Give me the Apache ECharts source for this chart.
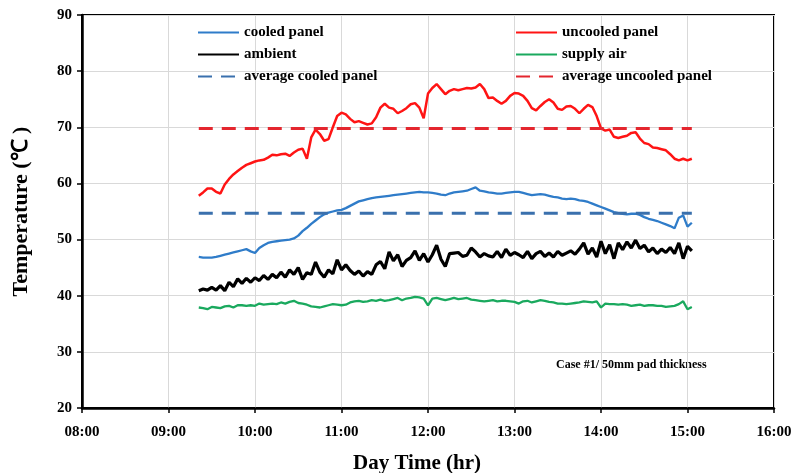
<!DOCTYPE html>
<html>
<head>
<meta charset="utf-8">
<title>Panel temperatures</title>
<script src="https://cdn.jsdelivr.net/npm/echarts@6/dist/echarts.min.js"></script>
<style>
  html, body { margin: 0; padding: 0; background: #fff; }
  #chart { width: 798px; height: 473px; }
</style>
</head>
<body>
<div id="chart"></div>
<script>
// Sampling: every 3 minutes from 09:21 to 15:03 (minutes after midnight)
const startMinute = 561;
const stepMinutes = 3;

const uncooledPanel = [
  57.8, 58.4, 59.1, 59.1, 58.5, 58.2, 59.8, 60.8, 61.6, 62.2,
  62.8, 63.3, 63.6, 63.9, 64.1, 64.2, 64.6, 65.1, 65.0, 65.2,
  65.3, 64.9, 65.5, 66.0, 66.2, 64.4, 68.2, 69.6, 68.8, 67.6,
  67.9, 70.0, 72.0, 72.6, 72.3, 71.5, 70.9, 71.1, 70.8, 70.5,
  70.7, 71.8, 73.5, 74.2, 73.5, 73.3, 72.5, 72.9, 73.4, 74.1,
  74.3, 73.5, 71.6, 76.0, 77.0, 77.7, 76.8, 75.9, 76.5, 76.8,
  76.6, 76.8, 77.0, 76.9, 77.1, 77.7, 76.8, 75.2, 75.3, 74.7,
  74.2, 74.7, 75.6, 76.1, 76.0, 75.6, 74.7, 73.4, 73.0, 73.8,
  74.5, 75.0, 74.4, 73.3, 73.1, 73.7, 73.8, 73.3, 72.5, 73.3,
  74.0, 73.6, 72.0, 69.8, 69.4, 69.6, 68.3, 68.1, 68.3, 68.5,
  69.0, 69.1, 68.0, 67.2, 67.0, 66.4, 66.3, 66.1, 65.9, 65.2,
  64.4, 64.1, 64.4, 64.1, 64.4
];

const cooledPanel = [
  46.9, 46.8, 46.8, 46.8, 46.9, 47.1, 47.3, 47.5, 47.7, 47.9,
  48.1, 48.3, 47.9, 47.6, 48.5, 49.0, 49.4, 49.6, 49.7, 49.8,
  49.9, 50.0, 50.2, 50.7, 51.5, 52.1, 52.8, 53.4, 54.0, 54.5,
  54.8, 55.0, 55.2, 55.3, 55.6, 56.0, 56.4, 56.8, 57.0, 57.2,
  57.4, 57.5, 57.6, 57.7, 57.8, 57.9, 58.0, 58.1, 58.2, 58.3,
  58.4, 58.5, 58.4, 58.4, 58.3, 58.2, 58.0, 57.9, 58.2, 58.4,
  58.5, 58.6, 58.7, 59.0, 59.3, 58.7, 58.6, 58.4, 58.3, 58.2,
  58.2, 58.3, 58.4, 58.5, 58.5, 58.3, 58.1, 57.9, 58.0, 58.1,
  58.0, 57.8, 57.6, 57.5, 57.3, 57.2, 57.3, 57.2, 57.0, 56.9,
  56.7, 56.4, 56.1, 55.8, 55.5, 55.2, 54.9, 54.7, 54.6, 54.5,
  54.6, 54.6, 54.4, 54.0, 53.7, 53.5, 53.3, 53.0, 52.7, 52.4,
  52.0, 53.9, 54.3, 52.3, 53.0
];

const ambient = [
  40.9, 41.2, 41.0, 41.5, 41.0, 41.8, 40.9, 42.4, 41.6, 43.0,
  42.2, 43.1, 42.4, 43.2, 42.7, 43.6, 42.9, 43.8, 43.2, 44.2,
  43.3, 44.6, 43.8, 45.0, 42.9, 44.1, 43.8, 46.0, 44.2, 43.3,
  44.6, 43.9, 46.4, 44.6, 45.5, 44.5, 43.8, 44.4, 43.5, 44.3,
  43.8, 45.5, 46.1, 44.8, 47.8, 46.2, 47.3, 45.2, 46.3, 46.8,
  48.0, 46.3, 47.5, 46.0, 47.3, 49.0, 46.5, 45.2, 47.5, 47.6,
  47.7, 47.0, 47.2, 48.5, 47.8, 46.9, 47.5, 47.1, 46.9, 47.9,
  46.8, 48.3, 47.2, 47.7, 47.3, 46.8, 47.9, 46.6, 47.5, 47.9,
  47.0, 47.6, 46.9, 47.9, 47.2, 47.6, 48.0, 47.4, 48.3, 49.4,
  47.4, 48.5, 46.9, 49.7, 47.5, 49.1, 46.6, 49.4, 48.2, 49.6,
  48.5, 49.9, 48.4, 49.0, 47.8, 48.5, 47.5, 48.3, 47.7, 48.6,
  47.5, 49.4, 46.6, 48.8, 48.0
];

const supplyAir = [
  37.9, 37.8, 37.6, 38.0, 37.9, 37.8, 38.1, 38.2, 37.9, 38.3,
  38.3, 38.2, 38.3, 38.2, 38.6, 38.4, 38.5, 38.6, 38.5, 38.8,
  38.6, 38.9, 39.1, 38.7, 38.6, 38.4, 38.1, 38.0, 37.9, 38.1,
  38.3, 38.5, 38.4, 38.3, 38.4, 38.8, 39.0, 39.1, 38.9, 39.0,
  39.2, 39.1, 39.3, 39.1, 39.2, 39.4, 39.6, 39.2, 39.5, 39.6,
  39.8, 39.7, 39.5, 38.3, 39.5, 39.6, 39.4, 39.2, 39.4, 39.6,
  39.4, 39.5, 39.6, 39.3, 39.2, 39.1, 39.0, 39.1, 39.2, 39.0,
  39.1, 39.1, 39.0, 38.9, 38.6, 39.0, 39.1, 38.8, 39.0, 39.2,
  39.1, 38.9, 38.8, 38.6, 38.6, 38.5, 38.6, 38.7, 38.8, 39.0,
  38.9, 38.8, 39.0, 37.9, 38.6, 38.5, 38.5, 38.4, 38.5, 38.4,
  38.2, 38.3, 38.4, 38.2, 38.3, 38.3, 38.2, 38.2, 38.0, 38.1,
  38.2, 38.5, 39.0, 37.6, 38.0
];

const averageCooled = 54.7;
const averageUncooled = 69.8;

const yTicks = { min: 20, max: 90, step: 10 };
const xTicks = { min: 480, max: 960, step: 60 };   // 08:00 .. 16:00

const times = uncooledPanel.map((_, i) => startMinute + i * stepMinutes);
const pair = arr => arr.map((v, i) => [times[i], v]);
const flat = v => [[times[0], v], [times[times.length - 1], v]];

const serif = '"Liberation Serif", "Times New Roman", serif';
const hhmm = m => String(Math.floor(m / 60)).padStart(2, '0') + ':' + String(m % 60).padStart(2, '0');

const legendText = { fontFamily: serif, fontWeight: 'bold', fontSize: 15, color: '#000' };
// line-only legend keys (no marker in the middle)
const legendBase = {
  orient: 'vertical', top: 20,
  itemWidth: 41, itemHeight: 14, itemGap: 7, itemTextGap: 5,
  itemStyle: { opacity: 0 },
  textStyle: legendText
};

const chart = echarts.init(document.getElementById('chart'), null, { renderer: 'canvas' });
chart.setOption({
  animation: false,
  backgroundColor: '#fff',
  grid: {
    left: 82, right: 24, top: 15, bottom: 65,
    containLabel: false, outerBoundsMode: 'none',
    show: true, borderColor: '#000', borderWidth: 2, backgroundColor: 'transparent'
  },
  legend: [
    Object.assign({}, legendBase, {
      left: 192,
      data: ['cooled panel', 'ambient', 'average cooled panel']
    }),
    Object.assign({}, legendBase, {
      left: 510,
      data: ['uncooled panel', 'supply air', 'average uncooled panel']
    })
  ],
  xAxis: {
    type: 'value',
    min: xTicks.min, max: xTicks.max, interval: xTicks.step,
    name: 'Day Time (hr)',
    nameLocation: 'middle', nameGap: 45,
    nameTextStyle: {
      fontFamily: serif, fontWeight: 'bold', fontSize: 21, color: '#000',
      padding: [0, 22, 0, 0]
    },
    axisLine: { show: true, onZero: false, lineStyle: { color: '#000', width: 2.5 } },
    axisTick: { show: true, length: 5, lineStyle: { color: '#000', width: 1.5 } },
    axisLabel: {
      margin: 17, formatter: v => hhmm(v),
      fontFamily: serif, fontWeight: 'bold', fontSize: 15, color: '#000'
    },
    splitLine: { show: true, lineStyle: { color: '#d9d9d9', width: 1 } }
  },
  yAxis: {
    type: 'value',
    min: yTicks.min, max: yTicks.max, interval: yTicks.step,
    name: 'Temperature (℃ )',
    nameLocation: 'middle', nameGap: 50,
    nameTextStyle: { fontFamily: serif, fontWeight: 'bold', fontSize: 22, color: '#000' },
    axisLine: { show: true, lineStyle: { color: '#000', width: 2.5 } },
    axisTick: { show: true, length: 5, lineStyle: { color: '#000', width: 1.5 } },
    axisLabel: { margin: 10, fontFamily: serif, fontWeight: 'bold', fontSize: 15, color: '#000' },
    splitLine: { show: true, lineStyle: { color: '#d9d9d9', width: 1 } }
  },
  series: [
    {
      name: 'cooled panel', type: 'line', symbol: 'none',
      data: pair(cooledPanel),
      lineStyle: { color: '#2f7cc9', width: 2.3 }, itemStyle: { color: '#2f7cc9' }
    },
    {
      name: 'uncooled panel', type: 'line', symbol: 'none',
      data: pair(uncooledPanel),
      lineStyle: { color: '#ff1414', width: 2.5 }, itemStyle: { color: '#ff1414' }
    },
    {
      name: 'ambient', type: 'line', symbol: 'none',
      data: pair(ambient),
      lineStyle: { color: '#000', width: 3.2 }, itemStyle: { color: '#000' }
    },
    {
      name: 'supply air', type: 'line', symbol: 'none',
      data: pair(supplyAir),
      lineStyle: { color: '#1aa95e', width: 2.3 }, itemStyle: { color: '#1aa95e' }
    },
    {
      name: 'average cooled panel', type: 'line', symbol: 'none',
      data: flat(averageCooled),
      lineStyle: { color: '#3a70ad', width: 3, type: [14, 9] }, itemStyle: { color: '#3a70ad' }
    },
    {
      name: 'average uncooled panel', type: 'line', symbol: 'none',
      data: flat(averageUncooled),
      lineStyle: { color: '#e4262e', width: 3, type: [14, 9] }, itemStyle: { color: '#e4262e' }
    }
  ],
  graphic: [
    {
      type: 'text', left: 556, top: 359,
      style: { text: 'Case #1/ 50mm pad thickness', font: 'bold 12px ' + serif, fill: '#000' }
    }
  ]
});
</script>
</body>
</html>
